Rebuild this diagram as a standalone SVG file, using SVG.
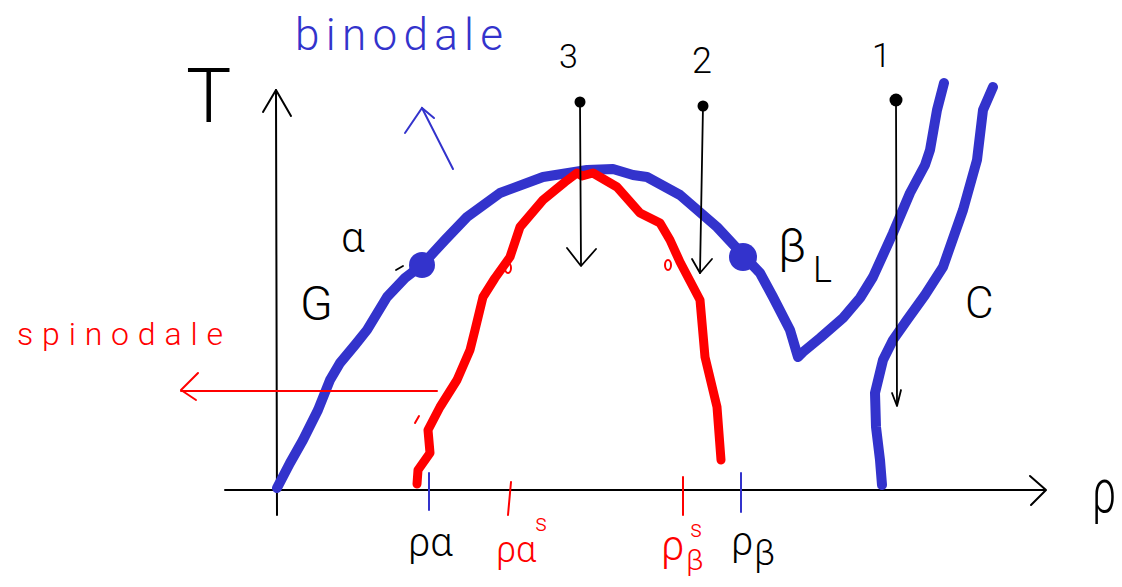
<svg xmlns="http://www.w3.org/2000/svg" width="1122" height="587" viewBox="0 0 1122 587">
<style>
.hw{font-family:Roboto,"Liberation Sans","DejaVu Sans",sans-serif;font-weight:300}
.k{fill:#000}
.b{fill:#3333cc}
.r{fill:#ff0000}
.ax{stroke:#000;stroke-width:2;fill:none;stroke-linecap:round;stroke-linejoin:round}
.thin{stroke:#000;stroke-width:1.8;fill:none;stroke-linecap:round;stroke-linejoin:round}
.bc{stroke:#3333cc;stroke-width:10;fill:none;stroke-linecap:round;stroke-linejoin:round}
.rc{stroke:#ff0000;stroke-width:9;fill:none;stroke-linecap:round;stroke-linejoin:round}
.bt{stroke:#3333cc;stroke-width:2;fill:none;stroke-linecap:round}
.rt{stroke:#ff0000;stroke-width:2;fill:none;stroke-linecap:round;stroke-linejoin:round}
</style>
<rect width="1122" height="587" fill="#fff"/>
<g id="axes">
  <polyline class="ax" points="225,490 1045,490"/>
  <polyline class="ax" points="1030,476 1046,490 1031,505"/>
  <polyline class="ax" points="277,515 276,90"/>
  <polyline class="ax" points="263,112 276,90 291,116"/>
  <text class="hw k" x="186" y="122" font-size="76" font-weight="200">T</text>
  <text class="hw k" transform="translate(1092,512) scale(0.7,1)" x="0" y="0" font-size="62" font-weight="200">ρ</text>
</g>
<g id="connectors">
  <polyline id="binodal" class="bc" points="277,488 290,463 303,440 318,410 330,380 340,363 355,345 367,330 387,297 405,278 422,265 445,240 467,217 500,193 543,177 587,170 613,169 633,175 647,177 680,195 717,227 743,255 760,273 773,297 790,330 798,357 803,352 820,338 843,318 860,298 873,277 893,233 910,193 925,165 930,150 937,110 944,83"/>
  <polyline id="binodal-right" class="bc" points="993,87 983,110 980,135 977,160 963,210 943,267 925,295 907,320 893,340 883,360 875,393 876,427 880,460 882,485"/>
  <polyline id="spinodal" class="rc" points="417,484 418,470 430,453 428,430 440,407 457,380 470,350 475,330 483,297 495,278 510,257 520,227 543,200 565,182 577,173 582,176 593,173 617,187 640,213 660,223 670,240 680,262 700,300 705,357 717,407 721,460"/>
  <ellipse class="rt" cx="508" cy="268" rx="3" ry="5" stroke-width="3"/>
  <ellipse class="rt" cx="668" cy="265" rx="3" ry="5" stroke-width="3"/>
  <line class="rt" x1="415" y1="423" x2="419" y2="416"/>
  <line id="path3" class="thin" x1="580" y1="102" x2="581" y2="265"/>
  <polyline class="thin" points="567,248 581,266 596,249"/>
  <line id="path2" class="thin" x1="703" y1="106" x2="700" y2="273"/>
  <polyline class="thin" points="692,259 700,273 712,259"/>
  <line id="path1" class="thin" x1="896" y1="100" x2="897" y2="405"/>
  <polyline class="thin" points="892,393 897,406 901,390"/>
  <line id="spinodal-arrow" class="rt" x1="437" y1="391" x2="181" y2="391"/>
  <polyline class="rt" points="198,373 181,390 196,400"/>
  <line id="binodal-arrow" class="bt" x1="453" y1="169" x2="422" y2="108"/>
  <polyline class="bt" points="405,133 422,108 434,118"/>
  <line class="thin" x1="396" y1="270" x2="403" y2="266"/>
</g>
<g id="point-3">
  <circle cx="580" cy="102" r="5.5" fill="#000"/>
  <text class="hw k" x="559" y="68" font-size="34">3</text>
</g>
<g id="point-2">
  <circle cx="703" cy="106" r="5.5" fill="#000"/>
  <text class="hw k" x="692" y="73" font-size="36">2</text>
</g>
<g id="point-1">
  <circle cx="896" cy="100" r="6.5" fill="#000"/>
  <text class="hw k" x="872" y="67" font-size="34">1</text>
</g>
<g id="G-alpha">
  <circle cx="422" cy="265" r="13" fill="#3333cc"/>
  <text class="hw k" x="300" y="320" font-size="48">G</text>
  <text class="hw k" x="341" y="252" font-size="42">α</text>
</g>
<g id="beta-L">
  <circle cx="743" cy="257" r="14" fill="#3333cc"/>
  <text class="hw k" x="778" y="262" font-size="48">β</text>
  <text class="hw k" x="813" y="282" font-size="36">L</text>
</g>
<g id="C">
  <text class="hw k" x="965" y="318" font-size="44">C</text>
</g>
<g id="binodale-label">
  <text class="hw b" x="295" y="50" font-size="44" textLength="208" lengthAdjust="spacing">binodale</text>
</g>
<g id="spinodale-label">
  <text class="hw r" x="17" y="345" font-size="32" textLength="206" lengthAdjust="spacing">spinodale</text>
</g>
<g id="rho-alpha">
  <line class="bt" x1="429" y1="473" x2="429" y2="510"/>
  <text class="hw k" x="408" y="556" font-size="40">ρα</text>
</g>
<g id="rho-alpha-s">
  <line class="rt" x1="511" y1="482" x2="508" y2="515"/>
  <text class="hw r" x="496" y="562" font-size="36">ρα</text>
  <text class="hw r" x="535" y="531" font-size="24">s</text>
</g>
<g id="rho-beta-s">
  <line class="rt" x1="683" y1="477" x2="683" y2="515"/>
  <text class="hw r" x="661" y="560" font-size="42">ρ</text>
  <text class="hw r" x="686" y="570" font-size="30">β</text>
  <text class="hw r" x="690" y="537" font-size="24">s</text>
</g>
<g id="rho-beta">
  <line class="bt" x1="741" y1="473" x2="741" y2="512"/>
  <text class="hw k" x="731" y="555" font-size="40">ρ</text>
  <text class="hw k" x="754" y="565" font-size="36">β</text>
</g>
</svg>
